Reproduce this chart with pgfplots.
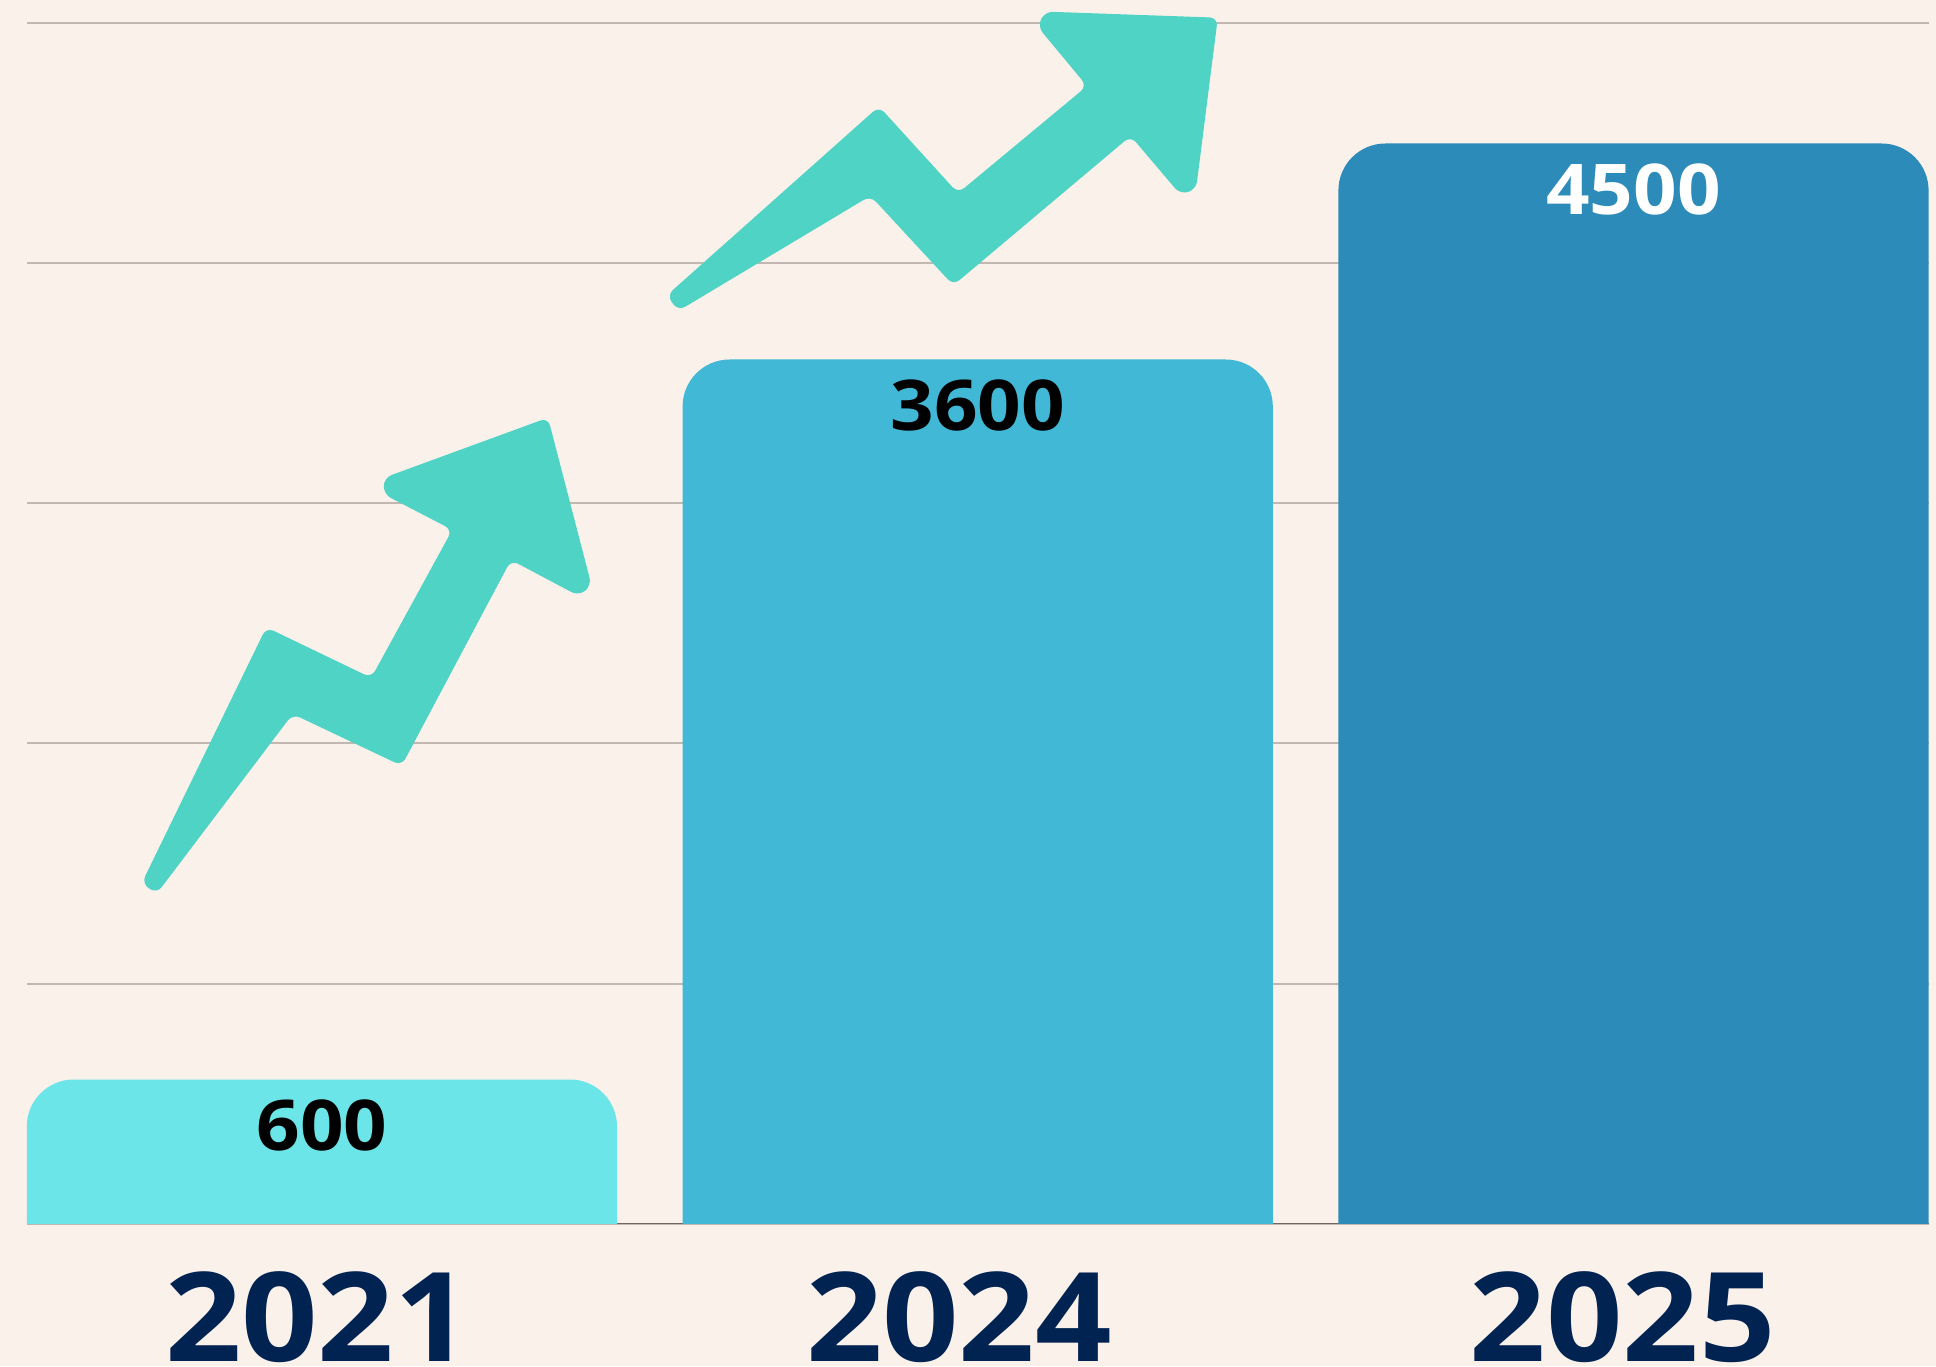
\documentclass[border=0pt]{standalone}
\usepackage{fontspec}
\usepackage{pgfplots}
\pgfplotsset{compat=1.18}
\setmainfont{Open Sans}
\newfontfamily\yearfont{Open Sans}[FakeStretch=1.08]
\newfontfamily\valfont{Open Sans}[FakeStretch=1.09]
\definecolor{bg}{HTML}{FAF1EB}
\definecolor{barA}{HTML}{6CE5E8}
\definecolor{barB}{HTML}{41B8D5}
\definecolor{barC}{HTML}{2D8BBA}
\definecolor{arrowc}{HTML}{4FD3C4}
\definecolor{yearc}{HTML}{012351}
\definecolor{gridc}{HTML}{C2B8B1}
\definecolor{basec}{HTML}{6F6660}
\begin{document}
\begin{tikzpicture}[x=1pt,y=1pt]
\fill[bg,use as bounding box] (0,0) rectangle (968,683);

\begin{axis}[
    name=main,
    at={(13.4pt,71.25pt)},anchor=south west,
    scale only axis,
    width=950.9pt,height=600pt,
    xmin=-0.45,xmax=2.45,
    ymin=0,ymax=5000,
    axis x line=bottom,
    axis y line=left,
    axis line style={-},
    x axis line style={draw=basec,line width=0.8pt},
    y axis line style={draw=none},
    xtick={0,1,2},
    xticklabels={2021\kern4pt,2024\kern18.8pt,2025\kern10.8pt},
    ytick={0,1000,2000,3000,4000,5000},
    yticklabels={},
    major tick length=0pt,
    ymajorgrids,
    grid style={draw=gridc,line width=1pt},
    xticklabel style={font=\fontsize{62}{62}\yearfont\bfseries,text=yearc,anchor=center,inner sep=0pt,yshift=-47pt},
]
% bars run below ymin so that the clip squares off the lower corners
\addplot[fill=barA,draw=none,rounded corners=23.5pt] coordinates {(-0.45,-500) (-0.45,600) (0.45,600) (0.45,-500)} -- cycle;
\addplot[fill=barB,draw=none,rounded corners=23.5pt] coordinates {(0.55,-500) (0.55,3600) (1.45,3600) (1.45,-500)} -- cycle;
\addplot[fill=barC,draw=none,rounded corners=23.5pt] coordinates {(1.55,-500) (1.55,4500) (2.45,4500) (2.45,-500)} -- cycle;

\node[font=\fontsize{35}{35}\valfont\bfseries,text=black] at (axis cs:0,600) [yshift=-23pt] {600};
\node[font=\fontsize{35}{35}\valfont\bfseries,text=black] at (axis cs:1,3600) [yshift=-23pt] {3600};
\node[font=\fontsize{35}{35}\valfont\bfseries,text=white] at (axis cs:2,4500) [yshift=-23pt] {4500};
\end{axis}

% arrows, in page pixels
\begin{axis}[
    at={(13.4pt,71.25pt)},anchor=south west,
    scale only axis,
    width=950.9pt,height=600pt,
    xmin=26.8,xmax=1928.6,
    ymin=23.5,ymax=1223.5,
    y dir=reverse,
    hide axis,
    clip=false,
]
\addplot[fill=arrowc,draw=none,rounded corners=4pt] coordinates {
(204,755.3) (141.7,883.3) (156.7,893.7) (292.7,714) (401.7,765.7) (511,560)
(578.6,595.9) (591.6,585.6) (548,417.7) (383.9,477.8) (383.7,494.3)
(452.3,529.8) (371.3,677.8) (266.3,627.3)
} -- cycle;
\addplot[fill=arrowc,draw=none,rounded corners=4pt] coordinates {
(772.9,200.9) (666.8,295.4) (678.3,310.9) (870.5,195.8) (953.3,285.3) (1130.7,136)
(1180.2,194.4) (1196,189.6) (1217.8,17.7) (1044.8,11.6) (1037.5,26.5)
(1087,86.1) (958,193.2) (879,106.4)
} -- cycle;
\end{axis}
\end{tikzpicture}
\end{document}
